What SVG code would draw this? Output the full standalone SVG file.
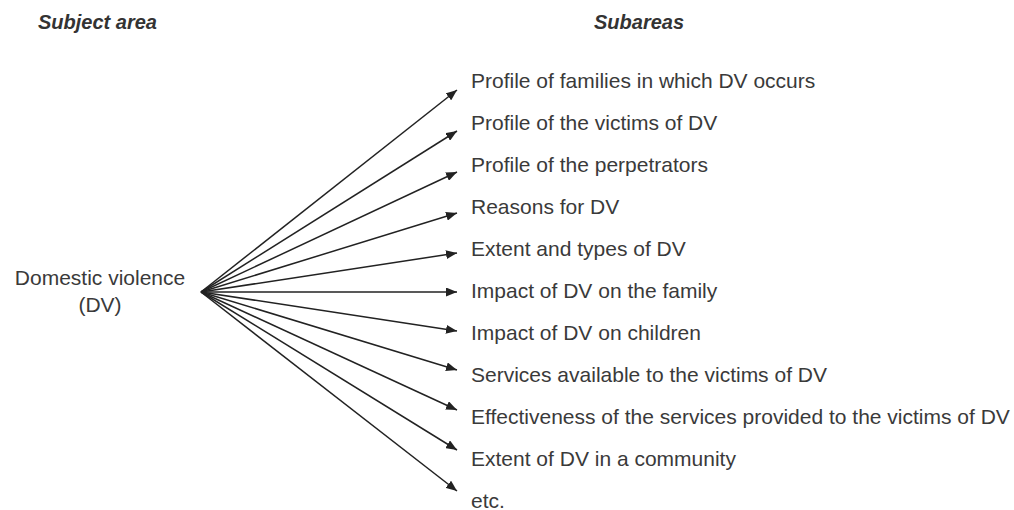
<svg xmlns="http://www.w3.org/2000/svg" width="1014" height="510" viewBox="0 0 1014 510">
  <style>
    .hdr { font-family: "Liberation Sans", Arial, sans-serif; font-size: 20px; font-weight: bold; font-style: italic; fill: #333; }
    .lbl { font-family: "Liberation Sans", Arial, sans-serif; font-size: 21px; fill: #3a3a3a; }
    .arr { stroke: #222; stroke-width: 1.5; fill: none; marker-end: url(#ah); }
  </style>
  <defs>
    <marker id="ah" markerUnits="userSpaceOnUse" markerWidth="12" markerHeight="9" refX="11" refY="4.5" orient="auto">
      <path d="M0,0 L11,4.5 L0,9 Z" fill="#222"/>
    </marker>
  </defs>
  <rect width="1014" height="510" fill="#fff"/>
  <g id="headers">
    <text class="hdr" x="38" y="29">Subject area</text>
    <text class="hdr" x="594" y="29">Subareas</text>
  </g>
  <g id="subject">
    <text class="lbl" x="100" y="285" text-anchor="middle">Domestic violence</text>
    <text class="lbl" x="100" y="312" text-anchor="middle">(DV)</text>
  </g>
  <g id="connectors">
    <line class="arr" x1="201" y1="292" x2="457" y2="90"/>
    <line class="arr" x1="201" y1="292" x2="457" y2="131"/>
    <line class="arr" x1="201" y1="292" x2="457" y2="172"/>
    <line class="arr" x1="201" y1="292" x2="457" y2="213"/>
    <line class="arr" x1="201" y1="292" x2="457" y2="253"/>
    <line class="arr" x1="201" y1="292" x2="457" y2="292"/>
    <line class="arr" x1="201" y1="292" x2="457" y2="331"/>
    <line class="arr" x1="201" y1="292" x2="457" y2="370"/>
    <line class="arr" x1="201" y1="292" x2="457" y2="410"/>
    <line class="arr" x1="201" y1="292" x2="457" y2="450"/>
    <line class="arr" x1="201" y1="292" x2="457" y2="491"/>
  </g>
  <g id="sub1"><text class="lbl" x="471" y="88">Profile of families in which DV occurs</text></g>
  <g id="sub2"><text class="lbl" x="471" y="130">Profile of the victims of DV</text></g>
  <g id="sub3"><text class="lbl" x="471" y="172">Profile of the perpetrators</text></g>
  <g id="sub4"><text class="lbl" x="471" y="214">Reasons for DV</text></g>
  <g id="sub5"><text class="lbl" x="471" y="256">Extent and types of DV</text></g>
  <g id="sub6"><text class="lbl" x="471" y="298">Impact of DV on the family</text></g>
  <g id="sub7"><text class="lbl" x="471" y="340">Impact of DV on children</text></g>
  <g id="sub8"><text class="lbl" x="471" y="382">Services available to the victims of DV</text></g>
  <g id="sub9"><text class="lbl" x="471" y="424">Effectiveness of the services provided to the victims of DV</text></g>
  <g id="sub10"><text class="lbl" x="471" y="466">Extent of DV in a community</text></g>
  <g id="sub11"><text class="lbl" x="471" y="508">etc.</text></g>
</svg>
